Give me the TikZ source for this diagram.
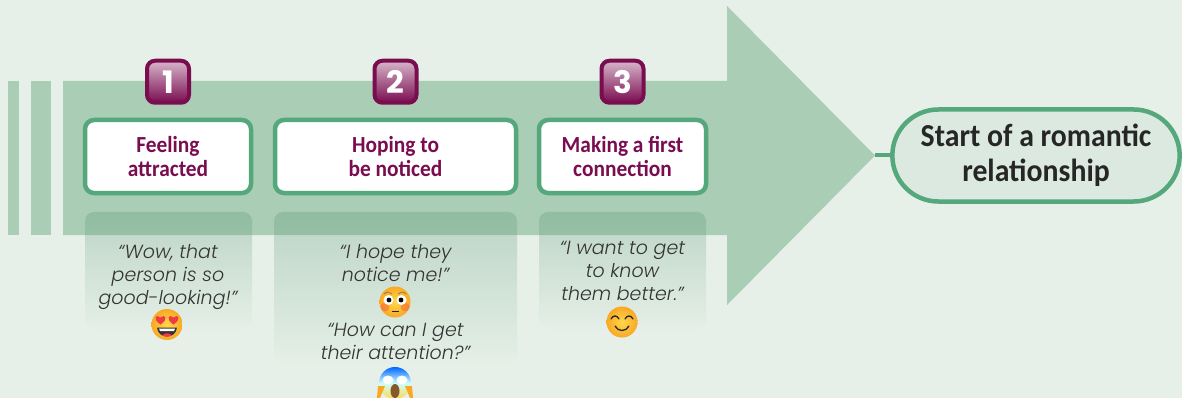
\documentclass[tikz,border=0pt]{standalone}
\usepackage{fontspec}
\setmainfont{Carlito}[FakeStretch=0.93]
\newfontfamily\quotefont{Poppins Light}[ItalicFont={Poppins Light Italic}]
\newfontfamily\numberfont{Poppins}
\usetikzlibrary{shapes.misc,positioning,fadings}
\definecolor{pagegreen}{HTML}{E6F0E8}
\definecolor{arrowgreen}{HTML}{A9CDB5}
\definecolor{bordergreen}{HTML}{55A87C}
\definecolor{goalgreen}{HTML}{DCE9E0}
\definecolor{panelgreen}{HTML}{649C7C}
\definecolor{stepwine}{HTML}{7A0C50}
\definecolor{quotegrey}{HTML}{333333}
\definecolor{heartred}{HTML}{EE3B45}
\definecolor{faceyellow}{HTML}{FFD84A}
\definecolor{faceorange}{HTML}{F9A825}
\tikzfading[name=fadepanel, top color=transparent!68, bottom color=transparent!100]
\tikzset
{
    stepbox/.style  = {rectangle, draw=bordergreen, fill=white, line width=4.5pt, rounded corners=9pt, align=center, minimum height=73pt, text=stepwine, font=\fontsize{23}{23.5}\selectfont\bfseries},
    badge/.style    = {rectangle, draw=stepwine, top color=stepwine!30!white, middle color=stepwine, bottom color=stepwine, line width=4pt, rounded corners=8pt, minimum size=42pt, inner sep=0pt, text=white, font=\fontsize{31}{31}\numberfont\bfseries},
    goal/.style     = {rounded rectangle, draw=bordergreen, fill=goalgreen, line width=4.5pt, align=center, minimum height=92pt, minimum width=294pt, font=\fontsize{32}{35}\selectfont\bfseries, text=black!85},
    quotetext/.style = {align=center, text=quotegrey, font=\fontsize{19}{23}\quotefont\itshape, inner sep=0pt},
    panel/.style    = {fill=panelgreen, rounded corners=9pt, path fading=fadepanel},
    face/.style     = {inner color=faceyellow, outer color=faceorange},
    heartface/.pic  = {
        \shade [face] (0,0) circle (15.5);
        \foreach \side in {-1,1}
            \fill [heartred, shift={(\side*6.5,-5)}] (0,5) .. controls (-9,-1) and (-4,-6) .. (0,-2) .. controls (4,-6) and (9,-1) .. (0,5) -- cycle;
        \fill [black!80] (-10,3) .. controls (-9,15) and (9,15) .. (10,3) -- cycle;
        \fill [white] (-8,4) -- (8,4) -- (7,6.5) -- (-7,6.5) -- cycle;
        \fill [heartred] (-5,11) .. controls (-3,8) and (3,8) .. (5,11) .. controls (2,12.5) and (-2,12.5) .. (-5,11) -- cycle;
    },
    flushface/.pic  = {
        \shade [face] (0,0) circle (15.5);
        \foreach \side in {-1,1}
        {
            \fill [heartred, opacity=0.35] (\side*10,5) circle (4.5);
            \fill [white] (\side*6.5,-2) circle (5);
            \fill [black] (\side*6,-2) circle (2.4);
            \draw [black!60, line width=0.5pt] (\side*11,-8) .. controls (\side*8,-11) and (\side*5,-10) .. (\side*3,-8);
        }
        \fill [black!85] (-3.5,8.5) rectangle (3.5,10);
    },
    screamface/.pic = {
        \shade [top color=blue!60!cyan, bottom color=faceyellow, middle color=cyan!20!white] (0,0) circle (16);
        \foreach \side in {-1,1}
        {
            \fill [white] (\side*7,-3) ellipse (5.5 and 4.5);
            \fill [faceorange] (\side*15,15) -- (\side*10,3) -- (\side*17,3) -- (\side*18,15) -- cycle;
        }
        \fill [brown!70!black] (0,8) ellipse (4.5 and 7);
    },
    smileface/.pic  = {
        \shade [face] (0,0) circle (15.5);
        \foreach \side in {-1,1}
            \draw [black!85, line width=1.3pt, line cap=round] (\side*11,-3) .. controls (\side*9,-7) and (\side*5,-7) .. (\side*3,-3);
        \draw [black!85, line width=1.3pt, line cap=round] (-7,4) .. controls (-4,10) and (4,10) .. (7,4);
    }
}
\begin{document}
\begin{tikzpicture}[x=1pt, y=-1pt]
    \useasboundingbox [fill=pagegreen] (0,0) rectangle (1182,398);

    \fill [arrowgreen] (8,81) rectangle (19,235);
    \fill [arrowgreen] (31,81) rectangle (51,235);
    \fill [arrowgreen] (63,81) -- (727,81) -- (727,6) -- (875,155.5) -- (727,305) -- (727,235) -- (63,235) -- cycle;
    \coordinate (arrowtip) at (875,155.5);

    \fill [panel] (85,212) rectangle (252,330);
    \fill [panel] (274,212) rectangle (517,365);
    \fill [panel] (539,212) rectangle (706,330);

    \node [stepbox, minimum width=166pt] (feeling) at (168,156.5) {Feeling \\ attracted};
    \node [stepbox, minimum width=241pt] (hoping) at (395.5,156.5) {Hoping to \\ be noticed};
    \node [stepbox, minimum width=167pt] (making) at (622.5,156.5) {Making a first \\ connection};

    \node [badge, above=13pt of feeling] (one) {1};
    \node [badge, above=13pt of hoping] (two) {2};
    \node [badge, above=13pt of making] (three) {3};

    \node [goal] (start) at (1036,155.5) {Start of a romantic \\ relationship};
    \draw [bordergreen, line width=4pt] (arrowtip) -- (start);

    \node [quotetext] (wow) at (168,277.5) {“Wow, that \\ person is so \\ good-looking!”};
    \node [quotetext] (hope) at (395.5,263.5) {“I hope they \\ notice me!”};
    \node [quotetext] (how) at (395.5,341.5) {“How can I get \\ their attention?”};
    \node [quotetext] (want) at (622.5,270.5) {“I want to get \\ to know \\ them better.”};

    \pic at (167,324.5) {heartface};
    \pic at (395,302) {flushface};
    \pic at (395,383) {screamface};
    \pic at (622,322) {smileface};
\end{tikzpicture}
\end{document}
